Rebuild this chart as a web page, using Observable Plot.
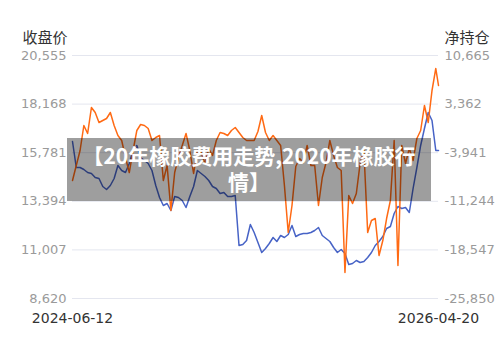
<!DOCTYPE html>
<html>
<head>
<meta charset="utf-8">
<script src="https://cdn.jsdelivr.net/npm/d3@7"></script>
<script src="https://cdn.jsdelivr.net/npm/@observablehq/plot@0.6"></script>
<style>
  html, body { margin: 0; padding: 0; background: #fff; }
  #wrap { position: relative; width: 500px; height: 340px; overflow: hidden; }
  #banner {
    position: absolute; left: 67px; top: 138px; width: 364px; height: 63px;
    box-sizing: border-box; padding: 4px 12px 0 12px;
    background: rgba(0,0,0,0.38); color: #fff;
    font-family: "Noto Sans CJK SC", "Noto Sans", sans-serif; font-weight: bold;
    font-size: 21px; line-height: 26px; text-align: center;
  }
</style>
</head>
<body>
<div id="wrap"></div>
<script>
// ---- data ----
const dates = [
  "2024-06-12","2024-06-19","2024-06-26","2024-07-03","2024-07-10","2024-07-17","2024-07-24","2024-07-31",
  "2024-08-07","2024-08-14","2024-08-21","2024-08-28","2024-09-04","2024-09-11","2024-09-18","2024-09-25",
  "2024-10-02","2024-10-09","2024-10-16","2024-10-23","2024-10-30","2024-11-06","2024-11-13","2024-11-20",
  "2024-11-27","2024-12-04","2024-12-11","2024-12-18","2024-12-25",
  "2025-01-01","2025-01-08","2025-01-15","2025-01-22","2025-01-29","2025-02-05","2025-02-12","2025-02-19",
  "2025-02-26","2025-03-05","2025-03-12","2025-03-19","2025-03-26","2025-04-02","2025-04-09","2025-04-16",
  "2025-04-23","2025-04-30","2025-05-07","2025-05-14","2025-05-21","2025-05-28","2025-06-04","2025-06-11",
  "2025-06-18","2025-06-25","2025-07-02","2025-07-09","2025-07-16","2025-07-23","2025-07-30","2025-08-06",
  "2025-08-13","2025-08-20","2025-08-27","2025-09-03","2025-09-10","2025-09-17","2025-09-24","2025-10-01",
  "2025-10-08","2025-10-15","2025-10-22","2025-10-29","2025-11-05","2025-11-12","2025-11-19","2025-11-26",
  "2025-12-03","2025-12-10","2025-12-17","2025-12-24","2025-12-31",
  "2026-01-07","2026-01-14","2026-01-21","2026-01-28","2026-02-04","2026-02-11","2026-02-18","2026-02-25",
  "2026-03-04","2026-03-11","2026-03-18","2026-03-25","2026-04-01","2026-04-08","2026-04-15","2026-04-20"
];
const closePrice = [
  16331,15054,15054,14956,14809,14759,14563,14514,14121,13974,14170,14514,15152,14907,14809,15251,
  15889,16135,15545,15398,15251,14907,14170,13581,13188,13286,12942,13630,13581,13433,13090,13630,
  14121,14907,14759,14612,14416,14121,14023,13777,13826,13630,13630,13679,11223,11272,11469,12255,
  11862,11371,10879,11076,11321,11616,11420,11714,11616,11763,12205,11665,11763,11813,11813,11862,
  11960,12107,11714,11567,11420,11125,10879,11027,10830,10290,10339,10486,10388,10437,10634,10879,
  11223,11420,11665,12058,12156,12795,13139,13040,13090,12844,14023,15054,16135,16970,17755,17362,
  15889,15889
];
const netPosition = [
  -8119,-5865,-3611,146,-1056,2851,2100,597,897,1198,2100,146,-1357,-2108,-4663,-6917,
  -3611,-605,297,146,-305,-2108,-1657,-1357,-8119,-5865,-12627,-6917,-4663,-2859,-1056,-3611,
  -7067,-3611,-3911,-5564,-3310,-4362,-2108,-906,-1056,-1357,-605,-154,-906,-1657,-2108,-2108,
  -2108,-756,1649,-906,-2108,-1357,-2108,-2859,-8870,-15933,-11876,-6015,-4813,-5414,-2859,-5865,
  -5865,-11876,-7668,-5414,-2108,-4362,-6165,-6616,-21944,-10373,-11575,-10072,-5564,-3611,-15933,-14130,
  -13829,-19389,-17135,-13829,-11124,-2108,-20892,-2859,-5564,-3310,-5113,-1807,-605,3152,597,5406,
  8712,6157
];
const leftTicks = [8620, 11007, 13394, 15781, 18168, 20555];
const rightTicks = [-25850, -18547, -11244, -3941, 3362, 10665];
const leftTitle = "收盘价";
const rightTitle = "净持仓";
const bannerText = "【20年橡胶费用走势,2020年橡胶行情】";

// ---- build ----
const rows = dates.map((d, i) => ({date: new Date(d), close: closePrice[i], net: netPosition[i]}));
const lMin = leftTicks[0], lMax = leftTicks[leftTicks.length - 1];
const rMin = rightTicks[0], rMax = rightTicks[rightTicks.length - 1];
const toLeft = v => lMin + (v - rMin) * (lMax - lMin) / (rMax - rMin);
const fmtNum = v => v.toLocaleString("en-US");
const xEnds = [new Date(dates[0]), new Date(dates[dates.length - 1])];

const font = "'DejaVu Sans', 'Noto Sans CJK SC', sans-serif";

const chart = Plot.plot({
  width: 500,
  height: 340,
  marginTop: 55,
  marginBottom: 42,
  marginLeft: 72,
  marginRight: 62,
  style: {fontFamily: font, background: "transparent"},
  x: {type: "utc", domain: xEnds},
  y: {domain: [lMin, lMax]},
  marks: [
    Plot.gridY(leftTicks, {stroke: "#e4e6ef", strokeOpacity: 1, strokeWidth: 1}),
    Plot.axisY(leftTicks, {anchor: "left", tickSize: 0, tickPadding: 6, label: null,
      tickFormat: d => fmtNum(d), fill: "#9a9a9a", fontSize: 13}),
    Plot.axisY(leftTicks, {anchor: "right", tickSize: 0, tickPadding: 6, label: null,
      tickFormat: d => fmtNum(rightTicks[leftTicks.indexOf(d)]), fill: "#9a9a9a", fontSize: 13}),
    Plot.axisX(xEnds, {tickSize: 0, tickPadding: 15, label: null,
      tickFormat: d3.utcFormat("%Y-%m-%d"), fill: "#333", fontSize: 14}),
    Plot.line(rows, {x: "date", y: "close", stroke: "#4763c6", strokeWidth: 1.5}),
    Plot.line(rows, {x: "date", y: d => toLeft(d.net), stroke: "#ff6a14", strokeWidth: 1.5}),
    Plot.text([leftTitle], {frameAnchor: "top-left", text: d => d, textAnchor: "end",
      dx: -5, dy: -23, fill: "#333", fontSize: 15}),
    Plot.text([rightTitle], {frameAnchor: "top-right", text: d => d, textAnchor: "start",
      dx: 6, dy: -23, fill: "#333", fontSize: 15})
  ]
});

const wrap = document.getElementById("wrap");
wrap.appendChild(chart);
const banner = document.createElement("div");
banner.id = "banner";
banner.textContent = bannerText;
wrap.appendChild(banner);
</script>
</body>
</html>
